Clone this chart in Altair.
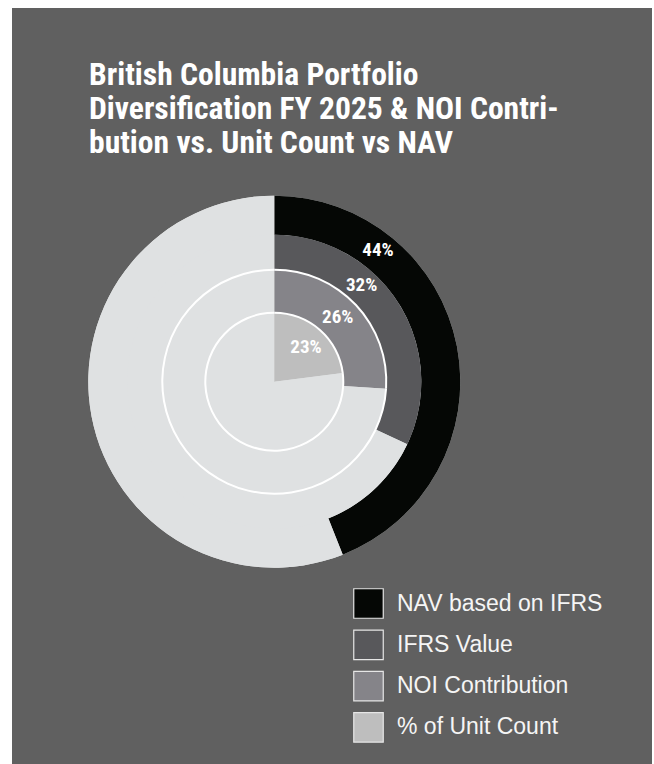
import altair as alt
import pandas as pd

# ---- data ----
categories = ["NAV based on IFRS", "IFRS Value", "NOI Contribution", "% of Unit Count"]
shares = [44, 32, 26, 23]
labels = ["44%", "32%", "26%", "23%"]
colors = ["#050705", "#58585b", "#858489", "#bebebe"]
rest_name = "Remainder"
rest_color = "#dfe1e2"
title_lines = [
    "British Columbia Portfolio",
    "Diversification FY 2025 & NOI Contri-",
    "bution vs. Unit Count vs NAV",
]

rows = []
for cat, s, lab in zip(categories, shares, labels):
    rows.append({"ring": cat, "segment": cat, "value": s, "ord": 0, "label": lab})
    rows.append({"ring": cat, "segment": rest_name, "value": 100 - s, "ord": 1, "label": ""})
df = pd.DataFrame(rows)

# ---- geometry / style ----
W, H = 640, 756
CX, CY = 262.3, 373.7
ring_radii = [(186, 147), (147, 112), (112, 69), (69, 0)]
label_pos = [(167.6, 0.667), (130, 0.737), (90.8, 0.773), (47.2, 0.737)]
white_circles = {2: 112, 3: 69}
BOLD_FONT = "'Roboto Condensed', 'Liberation Sans Narrow', 'DejaVu Sans Condensed', 'Arial Narrow', sans-serif"

color_scale = alt.Scale(domain=categories + [rest_name], range=colors + [rest_color])
theta_enc = alt.Theta("value:Q", stack=True)

panel = alt.Chart(pd.DataFrame({"p": [0]})).mark_rect(color="#606060").encode(
    x=alt.value(0), x2=alt.value(W), y=alt.value(0), y2=alt.value(H)
)

disc = (
    alt.Chart(df)
    .transform_filter(alt.datum.ring == categories[0])
    .mark_arc(radius=186, radius2=0, x=CX, y=CY, color=rest_color)
    .encode(theta=theta_enc, order=alt.Order("ord:Q"))
)

arc_layers, circle_layers, text_layers = [], [], []
for i, cat in enumerate(categories):
    base = alt.Chart(df).transform_filter(alt.datum.ring == cat)
    ro, ri = ring_radii[i]
    arc_layers.append(
        base.mark_arc(radius=ro, radius2=ri, x=CX, y=CY).encode(
            theta=theta_enc,
            color=alt.Color(
                "segment:N",
                scale=color_scale,
                legend=alt.Legend(
                    orient="none", legendX=341, legendY=580, title=None,
                    values=categories, symbolType="square", symbolSize=870,
                    symbolStrokeColor="#e6e6e6", symbolStrokeWidth=1.2,
                    labelFontSize=23, labelColor="#f5f5f5", labelFont="Liberation Sans",
                    labelOffset=13, rowPadding=6.3, padding=0, labelLimit=400,
                ),
            ),
            order=alt.Order("ord:Q"),
        )
    )
    if i in white_circles:
        r = white_circles[i]
        circle_layers.append(
            base.mark_arc(radius=r + 1, radius2=r - 1, x=CX, y=CY, color="white").encode(
                theta=theta_enc, order=alt.Order("ord:Q")
            )
        )
    lr, la = label_pos[i]
    text_layers.append(
        base.transform_filter(alt.datum.ord == 0)
        .mark_text(radius=lr, theta=la, x=CX, y=CY, font=BOLD_FONT, fontSize=19,
                   fontWeight="bold", color="white", align="center", baseline="middle")
        .encode(text="label:N")
    )

chart = (
    alt.layer(panel, disc, *arc_layers, *circle_layers, *text_layers)
    .properties(
        width=W,
        height=H,
        autosize=alt.AutoSizeParams(type="none"),
        padding={"left": 12, "top": 8, "right": 2, "bottom": 0},
        background="white",
        title=alt.TitleParams(
            text=title_lines, anchor="start", frame="group", orient="top",
            offset=0, dx=77, dy=152, baseline="top", font=BOLD_FONT, fontSize=31.6,
            fontWeight="bold", color="white", lineHeight=34.2,
        ),
    )
    .configure_view(strokeWidth=0)
)

chart.save("out.html", embed_options={"renderer": "svg", "actions": False})
